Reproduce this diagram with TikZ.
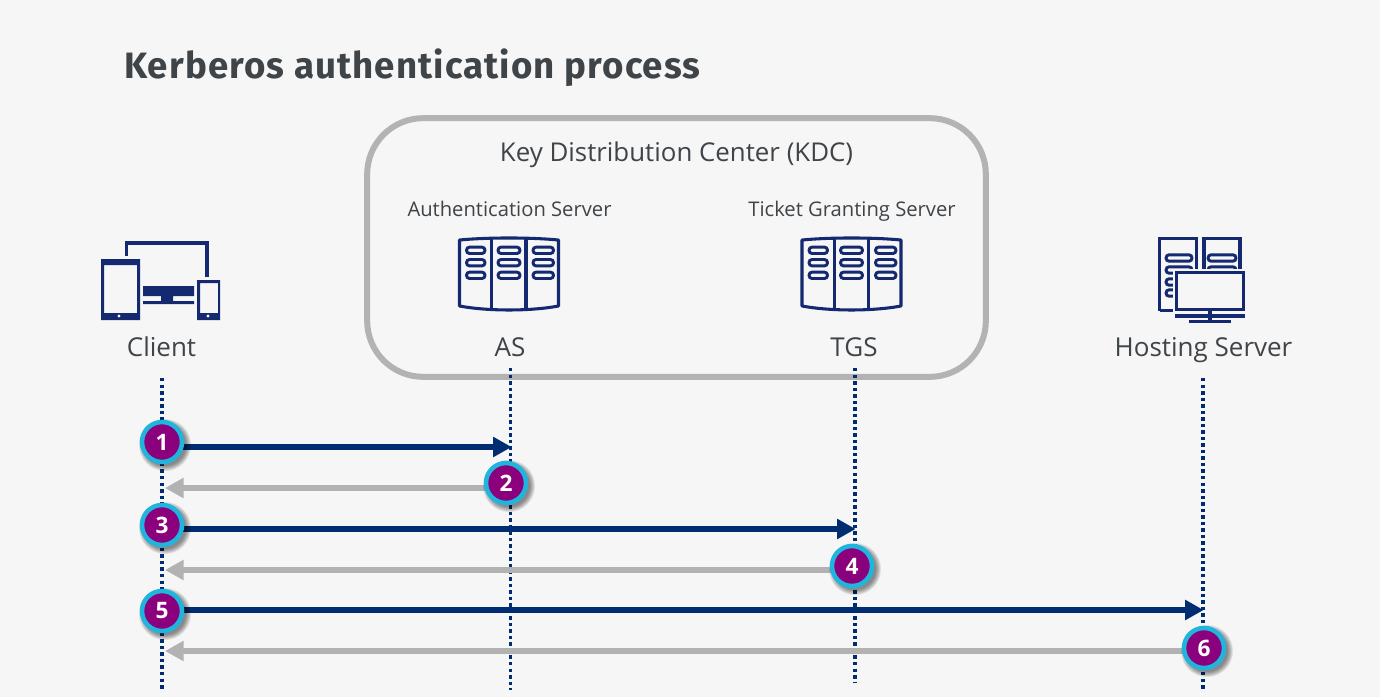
\documentclass[tikz,border=0pt]{standalone}
\usepackage{fontspec}
\setmainfont{Open Sans}
\newfontfamily\titlefont[LetterSpace=3]{Fira Sans}
\usetikzlibrary{arrows.meta}
\definecolor{bgc}{HTML}{F6F6F6}
\definecolor{navyc}{HTML}{002D72}
\definecolor{iconc}{HTML}{14296F}
\definecolor{greyc}{HTML}{B2B2B2}
\definecolor{kdcc}{HTML}{B3B3B3}
\definecolor{textc}{HTML}{3F4448}
\definecolor{purplec}{HTML}{8B007D}
\definecolor{ringc}{HTML}{1FB5DC}
\newcommand\softshadow[2]{\foreach \rr in {26,25,24,23,22,21}{\fill[black,opacity=.09] (#1+3,#2+3) circle (\rr);}}
\tikzset{
  x=0.75pt,y=-0.75pt,
  lifeline/.style={draw=navyc,line width=2.8pt,dash pattern=on 2.6pt off 2.3pt},
  goarrow/.style={draw=navyc,line width=4.4pt,-{Triangle[length=14pt,width=14.5pt]},shorten >=-0.5pt},
  backarrow/.style={draw=greyc,line width=4.4pt,-{Triangle[length=14pt,width=14.5pt]}},
  badge/.style={circle,draw=ringc,fill=purplec,line width=3.4pt,minimum size=30pt,inner sep=0pt,
    text=white,font=\fontsize{17}{17}\selectfont\bfseries},
  kdcbox/.style={draw=kdcc,line width=4.5pt,rounded corners=42pt,minimum width=464pt,minimum height=194pt,inner sep=0pt},
  lab/.style={text=textc,inner sep=0pt,anchor=base,font=\fontsize{19.5}{22}\selectfont},
  bigl/.style={text=textc,inner sep=0pt,anchor=base,font=\fontsize{19.4}{22}\selectfont},
  smalll/.style={text=textc,inner sep=0pt,anchor=base,font=\fontsize{15.15}{18}\selectfont},
  ttl/.style={text=textc,inner sep=0pt,anchor=base west,font=\fontsize{27.5}{30}\titlefont\bfseries},
  ic/.style={draw=iconc,line width=2.3pt,fill=none},
  pill/.style={draw=iconc,line width=2.2pt,rounded corners=2.3pt},
  pics/rackicon/.style={code={
    \draw[ic,line join=round] (1.5,3) .. controls (30,0.3) and (72,0.3) .. (100.5,3) -- (100.5,69) .. controls (72,74.3) and (30,74.3) .. (1.5,69) -- cycle;
    \draw[ic] (33.7,1) -- (33.7,73) (68,1) -- (68,73);
    \foreach \yy in {13.3,25.7,38.3}{
      \draw[pill] (8.5,\yy-3.2) rectangle (27,\yy+3.2);
      \draw[pill] (40,\yy-3.2) rectangle (62,\yy+3.2);
      \draw[pill] (75,\yy-3.2) rectangle (95.5,\yy+3.2);
    }
  }},
}
\begin{document}
\begin{tikzpicture}
\useasboundingbox[fill=bgc] (0,0) rectangle (1380,697);
\node[ttl] (title) at (124,78.5) {Kerberos authentication process};
\node[kdcbox] (kdc) at (676.5,247.5) {};
\node[bigl] (kdclab) at (676.5,161) {Key Distribution Center (KDC)};
\node[smalll] (aslab) at (509.5,216) {Authentication Server};
\node[smalll] (tgslab) at (852,216) {Ticket Granting Server};
\node[lab] (client) at (161.5,356.5) {Client};
\node[lab] (as) at (510,356.5) {AS};
\node[lab] (tgs) at (854,356.5) {TGS};
\node[lab] (host) at (1203.5,356.5) {Hosting Server};
% client icon
\draw[ic] (126.5,256) -- (126.5,243) -- (207,243) -- (207,277);
\fill[iconc,even odd rule] (101,259) rectangle (140,320) (104,265) rectangle (137,313);
\fill[bgc] (119,316) circle (1.6);
\fill[iconc] (143,286) rectangle (194,296) (161,296) rectangle (173,301) (143,301) rectangle (194,304);
\fill[iconc,even odd rule] (197,280) rectangle (220,320) (200,283) rectangle (218,313);
\fill[bgc] (208,316) circle (1.6);
% servers
\pic at (458,237) {rackicon};
\pic at (800.5,237) {rackicon};
% hosting icon
\draw[ic] (1159.5,310.5) -- (1159.5,238.5) -- (1196.5,238.5) -- (1196.5,270);
\draw[ic] (1159.5,310.5) -- (1175,310.5);
\draw[ic] (1204,270) -- (1204,238.5) -- (1240,238.5) -- (1240,270);
\foreach \yy in {258,270,282,293}{\draw[pill] (1166,\yy-3.2) rectangle (1192,\yy+3.2);}
\foreach \yy in {258,270}{\draw[pill] (1208,\yy-3.2) rectangle (1236,\yy+3.2);}
\fill[bgc] (1173,268.5) rectangle (1250,325);
\draw[ic] (1176.5,272.5) rectangle (1243.5,309.5);
\draw[ic] (1175,316) -- (1245,316) (1189,321.5) -- (1231,321.5);
\draw[ic,line width=3.6pt] (1210,310) -- (1210,321);
% lifelines
\coordinate (cT) at (162,378); \coordinate (cB) at (162,690);
\coordinate (aT) at (510.5,368); \coordinate (aB) at (510.5,690);
\coordinate (tT) at (855,368); \coordinate (tB) at (855,682);
\coordinate (hT) at (1203,378); \coordinate (hB) at (1203,690);
\draw[lifeline] (cT) -- (cB);
\draw[lifeline] (aT) -- (aB);
\draw[lifeline] (tT) -- (tB);
\draw[lifeline] (hT) -- (hB);
% arrows
\coordinate (c1) at (180,447); \coordinate (a1) at (511,447);
\coordinate (a2) at (490,488); \coordinate (c2) at (165,488);
\coordinate (c3) at (180,529); \coordinate (t3) at (855,529);
\coordinate (t4) at (835,570); \coordinate (c4) at (165,570);
\coordinate (c5) at (180,610); \coordinate (h5) at (1203,610);
\coordinate (h6) at (1186,651); \coordinate (c6) at (165,651);
\draw[goarrow] (c1) -- (a1);
\draw[backarrow] (a2) -- (c2);
\draw[goarrow] (c3) -- (t3);
\draw[backarrow] (t4) -- (c4);
\draw[goarrow] (c5) -- (h5);
\draw[backarrow] (h6) -- (c6);
% badges
\softshadow{162}{442}\softshadow{506}{483}\softshadow{162}{525}
\softshadow{852}{566}\softshadow{162}{611}\softshadow{1204}{648}
\node[badge] (n1) at (162,442) {1};
\node[badge] (n2) at (506,483) {2};
\node[badge] (n3) at (162,525) {3};
\node[badge] (n4) at (852,566) {4};
\node[badge] (n5) at (162,611) {5};
\node[badge] (n6) at (1204,648) {6};
\end{tikzpicture}
\end{document}
